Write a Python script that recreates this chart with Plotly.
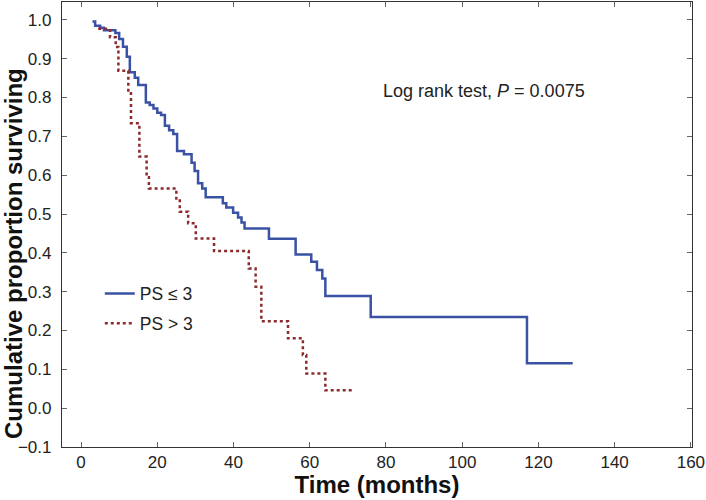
import plotly.graph_objects as go

# PS <= 3 group (Kaplan-Meier steps)
time_ps_le3 = [3.0, 3.7, 5.0, 6.0, 9.0, 10.0, 11.0, 12.0, 12.8, 14.1, 15.0, 17.0, 18.0, 19.0,
               20.0, 21.0, 22.0, 23.1, 24.2, 25.2, 27.0, 29.0, 29.8, 30.7, 31.8, 32.7, 37.2,
               38.1, 39.9, 41.2, 42.1, 42.9, 49.3, 56.3, 60.4, 61.9, 63.3, 64.1, 76.0, 117.0, 129.0]
surv_ps_le3 = [0.996, 0.985, 0.98, 0.973, 0.966, 0.951, 0.931, 0.905, 0.865, 0.851, 0.832, 0.787,
               0.781, 0.772, 0.761, 0.755, 0.727, 0.716, 0.706, 0.662, 0.654, 0.632, 0.611, 0.579,
               0.566, 0.543, 0.528, 0.517, 0.503, 0.491, 0.478, 0.463, 0.436, 0.396, 0.377, 0.356,
               0.334, 0.289, 0.235, 0.116, 0.116]

# PS > 3 group
time_ps_gt3 = [4.5, 7.6, 9.1, 9.8, 12.4, 13.1, 15.3, 17.2, 17.8, 25.0, 25.9, 28.1, 30.1, 34.9,
               44.0, 45.8, 47.3, 54.3, 58.2, 59.1, 64.1, 71.7]
surv_ps_gt3 = [0.977, 0.955, 0.93, 0.869, 0.811, 0.734, 0.648, 0.595, 0.566, 0.54, 0.506, 0.476,
               0.437, 0.405, 0.36, 0.313, 0.224, 0.18, 0.137, 0.089, 0.046, 0.046]

x_ticks = [0, 20, 40, 60, 80, 100, 120, 140, 160]
y_ticks = [-0.1, 0.0, 0.1, 0.2, 0.3, 0.4, 0.5, 0.6, 0.7, 0.8, 0.9, 1.0]

FONT = "Liberation Sans, Arial, sans-serif"

fig = go.Figure()
fig.add_trace(go.Scatter(x=time_ps_le3, y=surv_ps_le3, mode="lines", line_shape="hv",
                         name="PS ≤ 3", legendgroup="a",
                         line=dict(color="#3a52a3", width=2.5)))
fig.add_trace(go.Scatter(x=time_ps_gt3, y=surv_ps_gt3, mode="lines", line_shape="hv",
                         name="PS > 3", legendgroup="b",
                         line=dict(color="#8c2a2e", width=2.5, dash="dot")))

fig.add_annotation(x=105.8, y=0.817, xref="x", yref="y",
                   text="Log rank test, <i>P</i> = 0.0075", showarrow=False,
                   font=dict(family=FONT, size=18, color="#222"))

# y-axis title (placed as annotation: it sits lower than the plot centre in the reference)
fig.add_annotation(x=-0.0762, y=0.436, xref="paper", yref="paper",
                   text="<b>Cumulative proportion surviving</b>", textangle=-90,
                   showarrow=False, xanchor="center", yanchor="middle",
                   font=dict(family=FONT, size=24, color="#111"))

axis_common = dict(showline=True, linecolor="#333", linewidth=1.2, mirror="allticks",
                   ticks="inside", ticklen=5, tickcolor="#666", showgrid=False, zeroline=False,
                   automargin=False, ticklabeloverflow="allow",
                   tickfont=dict(family=FONT, size=17, color="#222"))

fig.update_xaxes(range=[-5.0, 160.3], tickvals=x_ticks,
                 ticktext=[str(v) for v in x_ticks],
                 title=dict(text="<b>Time (months)</b>", font=dict(family=FONT, size=24, color="#111"),
                            standoff=3),
                 ticklabelstandoff=-1,
                 **axis_common)
fig.update_yaxes(range=[-0.1, 1.046], tickvals=y_ticks,
                 ticktext=[f"{v:.1f}".replace("-", "\u2212") for v in y_ticks],
                 ticklabelstandoff=6,
                 **axis_common)

fig.update_layout(
    width=706, height=500,
    margin=dict(l=62, r=14, t=2, b=53),
    plot_bgcolor="white", paper_bgcolor="white",
    showlegend=True,
    legend=dict(x=0.06, y=0.385, xanchor="left", yanchor="top",
                font=dict(family=FONT, size=17.5, color="#222"),
                bgcolor="rgba(0,0,0,0)", tracegroupgap=4, traceorder="grouped"),
)

fig.write_html("out.html", config={"displayModeBar": False},
               post_script="document.body.style.margin='0px';")
